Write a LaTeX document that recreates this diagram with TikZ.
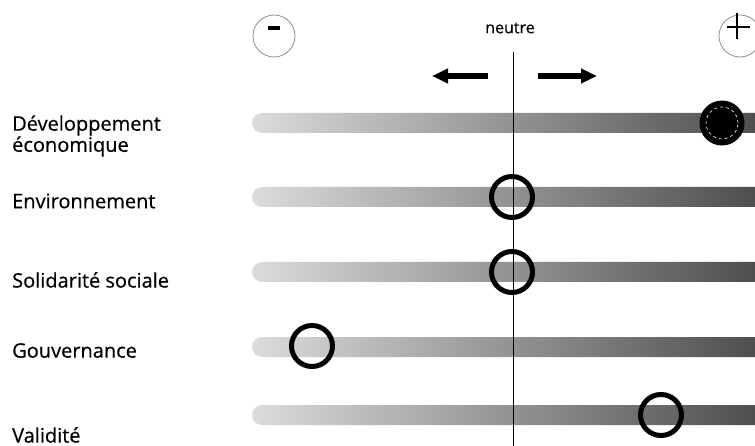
\documentclass[tikz,border=0pt]{standalone}
\usepackage{fontspec}
\setmainfont{Open Sans}[UprightFeatures={FakeBold=0.5}]
\usetikzlibrary{arrows.meta,positioning}
\tikzset{>={Triangle[length=16pt,width=14pt]}}

\begin{document}
\begin{tikzpicture}[x=1pt,y=-1pt,
    critere/.style={anchor=west, align=left, inner sep=0pt, font=\fontsize{20}{19}\selectfont},
    barre/.style={left color=black!14, right color=black!72, rounded corners=10pt},
    repere/.style={circle, draw=black, line width=5pt, minimum size=41pt, inner sep=0pt},
    plein/.style={circle, fill=black, minimum size=45pt, inner sep=0pt},
    signe/.style={circle, draw=black!45, line width=0.8pt, minimum size=42pt, inner sep=0pt}]

    \useasboundingbox (0,0) rectangle (755,446);

    % Gradient bars
    \shade[barre] (252,113) rectangle (780,133);
    \shade[barre] (252,187) rectangle (780,207);
    \shade[barre] (252,262) rectangle (780,282);
    \shade[barre] (252,337) rectangle (780,357);
    \shade[barre] (252,405) rectangle (780,425);

    % Neutral line
    \coordinate (axe-haut) at (513,52);
    \coordinate (axe-bas) at (513,446);
    \draw[line width=1pt] (axe-haut) -- (axe-bas);
    \node[font=\fontsize{16}{16}\selectfont] (neutre) at (510,28) {neutre};

    % Direction arrows
    \coordinate (gauche-a) at (488,76);
    \coordinate (gauche-b) at (432,76);
    \coordinate (droite-a) at (538,76);
    \coordinate (droite-b) at (597,76);
    \draw[->, line width=6pt] (gauche-a) -- (gauche-b);
    \draw[->, line width=6pt] (droite-a) -- (droite-b);

    % Minus and plus signs
    \node[signe] (moins) at (274,36) {};
    \node[signe] (plus) at (740,36) {};
    \draw[line width=4pt] ([xshift=-6pt,yshift=8pt]moins.center) -- ++(12pt,0);
    \draw[line width=2pt] ([xshift=-13pt,yshift=9pt]plus.center) -- ++(23pt,0);
    \draw[line width=2pt] ([xshift=-3pt,yshift=23pt]plus.center) -- ++(0,-26pt);

    % Criteria labels
    \node[critere] (dev) at (12,136) {Développement\\économique};
    \node[critere] (env) at (12,201) {Environnement};
    \node[critere] (sol) at (12,280) {Solidarité sociale};
    \node[critere] (gouv) at (12,350.5) {Gouvernance};
    \node[critere] (val) at (12,435) {Validité};

    % Markers on the bars
    \node[plein] (m-dev) at (722,123) {};
    \draw[white, dashed, line width=0.6pt] (m-dev.center) circle (16pt);
    \node[repere] (m-env) at (512,197) {};
    \node[repere] (m-sol) at (512,272) {};
    \node[repere] (m-gouv) at (312,346) {};
    \node[repere] (m-val) at (661,415) {};

\end{tikzpicture}
\end{document}
